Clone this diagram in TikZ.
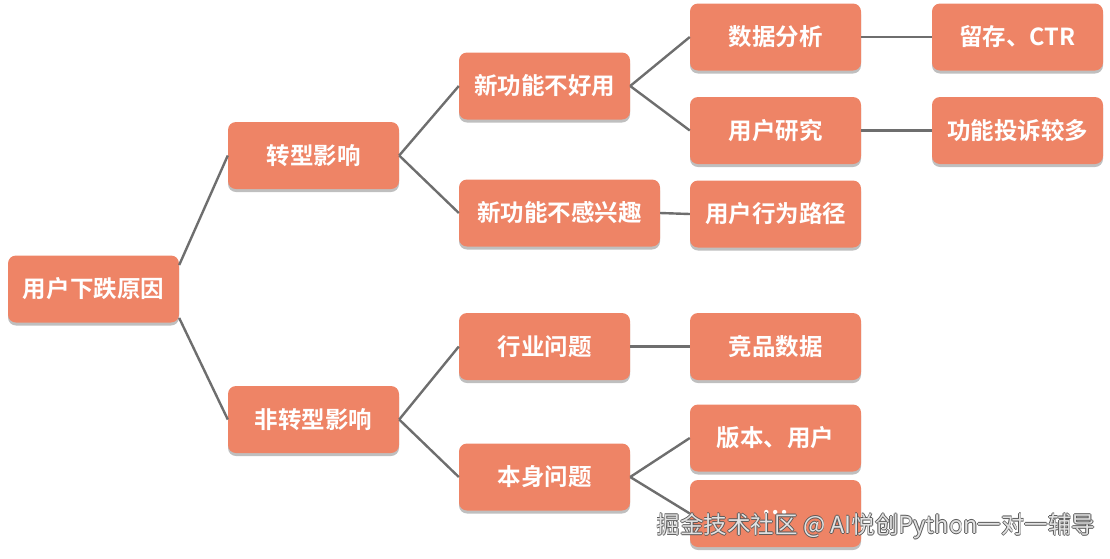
\documentclass[tikz,border=0pt]{standalone}
\usepackage{fontspec}
\setmainfont{Noto Sans CJK SC}[BoldFont={Noto Sans CJK SC Bold}]
\usetikzlibrary{shadows}
\definecolor{boxfill}{HTML}{EE8466}
\definecolor{linegray}{HTML}{6E6E6E}
\definecolor{wmfill}{HTML}{E2E2E2}
\definecolor{wmedge}{HTML}{5A5A5A}
\tikzset{
  box/.style={draw=none, fill=boxfill, rounded corners=8pt, minimum width=171pt,
    minimum height=67pt, inner sep=0pt, text=white, font=\bfseries\fontsize{23.5}{26}\selectfont,
    drop shadow={shadow xshift=0pt, shadow yshift=-3pt, fill=black, opacity=0.25}},
  link/.style={draw=linegray, line width=2.4pt},
  wm/.style={font=\fontsize{23.5}{26}\selectfont, anchor=center}
}
\begin{document}
\begin{tikzpicture}[x=1pt,y=-1pt]
\useasboundingbox (0,0) rectangle (1110,558);
\node[box] (root) at (93.5,289) {用户下跌原因};
\node[box] (zx) at (313.5,155.5) {转型影响};
\node[box] (fzx) at (313.5,419.5) {非转型影响};
\node[box] (a1) at (544.5,86) {新功能不好用};
\node[box,minimum width=201pt] (a2) at (559.5,213) {新功能不感兴趣};
\node[box] (a3) at (544.5,346.5) {行业问题};
\node[box] (a4) at (544.5,477) {本身问题};
\node[box] (b1) at (775.5,37) {数据分析};
\node[box] (b2) at (775.5,130.5) {用户研究};
\node[box] (b3) at (775.5,214) {用户行为路径};
\node[box] (b4) at (775.5,346.5) {竞品数据};
\node[box] (b5) at (775.5,438) {版本、用户};
\node[box] (b6) at (775.5,513.5) {\raisebox{2pt}{…}};
\node[box] (c1) at (1017.5,37) {留存、CTR};
\node[box] (c2) at (1017.5,130.5) {功能投诉较多};
\draw[link] ([yshift=24pt]root.east) -- (zx.west);
\draw[link] ([yshift=-29pt]root.east) -- (fzx.west);
\draw[link] (zx.east) -- (a1.west);
\draw[link] (zx.east) -- (a2.west);
\draw[link] (fzx.east) -- (a3.west);
\draw[link] (fzx.east) -- (a4.west);
\draw[link] (a1.east) -- (b1.west);
\draw[link] (a1.east) -- (b2.west);
\draw[link] (a2.east) -- (b3.west);
\draw[link] (a3.east) -- (b4.west);
\draw[link] (a4.east) -- (b5.west);
\draw[link] (a4.east) -- (b6.west);
\draw[link] (b1.east) -- (c1.west);
\draw[link] (b2.east) -- (c2.west);
\foreach \dx/\dy in {-0.8/0,0.8/0,0/-0.8,0/0.8}{
  \node[wm,text=wmedge] at ([xshift=\dx pt,yshift=\dy pt]876,526) {掘金技术社区 @ AI悦创Python一对一辅导};
}
\node[wm,text=wmfill] (wmark) at (876,526) {掘金技术社区 @ AI悦创Python一对一辅导};
\end{tikzpicture}
\end{document}
